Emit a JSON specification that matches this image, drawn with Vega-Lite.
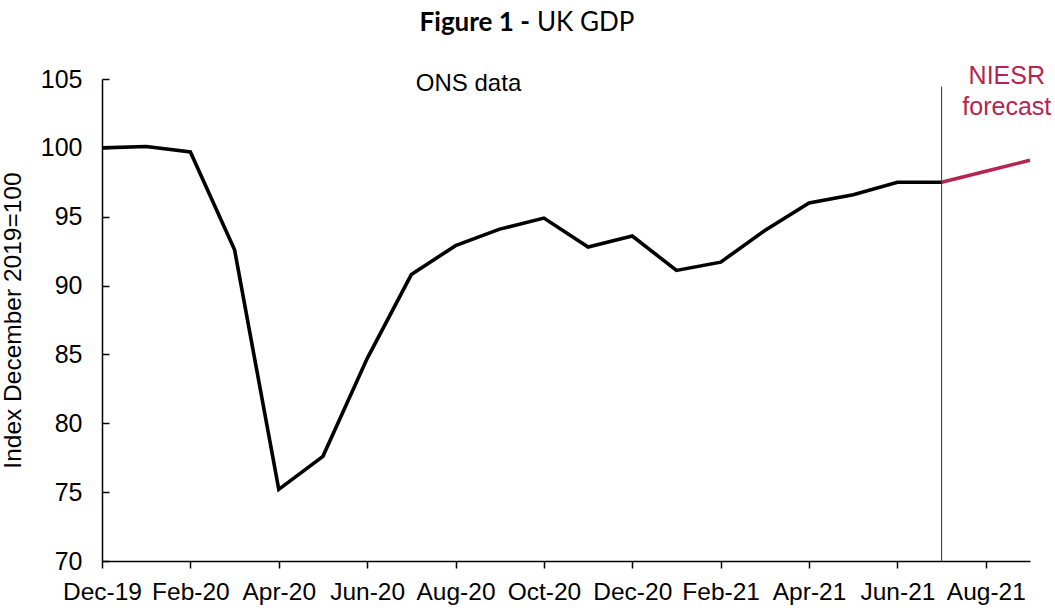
{
  "$schema": "https://vega.github.io/schema/vega-lite/v6.json",
  "autosize": {"type": "none"},
  "padding": {"left": 102, "top": 79, "right": 25, "bottom": 49},
  "width": 928,
  "height": 482,
  "background": "white",
  "config": {"view": {"stroke": null}, "font": "Liberation Sans"},
  "datasets": {
    "gdp": [
      {"month": "Dec-19", "value": 100.0, "series": "ONS"},
      {"month": "Jan-20", "value": 100.1, "series": "ONS"},
      {"month": "Feb-20", "value": 99.7, "series": "ONS"},
      {"month": "Mar-20", "value": 92.6, "series": "ONS"},
      {"month": "Apr-20", "value": 75.2, "series": "ONS"},
      {"month": "May-20", "value": 77.6, "series": "ONS"},
      {"month": "Jun-20", "value": 84.7, "series": "ONS"},
      {"month": "Jul-20", "value": 90.8, "series": "ONS"},
      {"month": "Aug-20", "value": 92.9, "series": "ONS"},
      {"month": "Sep-20", "value": 94.1, "series": "ONS"},
      {"month": "Oct-20", "value": 94.9, "series": "ONS"},
      {"month": "Nov-20", "value": 92.8, "series": "ONS"},
      {"month": "Dec-20", "value": 93.6, "series": "ONS"},
      {"month": "Jan-21", "value": 91.1, "series": "ONS"},
      {"month": "Feb-21", "value": 91.7, "series": "ONS"},
      {"month": "Mar-21", "value": 94.0, "series": "ONS"},
      {"month": "Apr-21", "value": 96.0, "series": "ONS"},
      {"month": "May-21", "value": 96.6, "series": "ONS"},
      {"month": "Jun-21", "value": 97.5, "series": "ONS"},
      {"month": "Jul-21", "value": 97.5, "series": "ONS"},
      {"month": "Jul-21", "value": 97.5, "series": "NIESR"},
      {"month": "Aug-21", "value": 98.3, "series": "NIESR"},
      {"month": "Sep-21", "value": 99.1, "series": "NIESR"}
    ],
    "notes": [
      {"label": "ONS data", "month": "Aug-20", "value": 104.65, "kind": "ons"},
      {"label": "NIESR", "month": "Aug-21", "value": 105.2, "kind": "niesr"},
      {"label": "forecast", "month": "Aug-21", "value": 102.95, "kind": "niesr"},
      {"label": "Figure 1 -", "month": "Oct-20", "value": 109.05, "kind": "titlebold"},
      {"label": "UK GDP", "month": "Oct-20", "value": 109.05, "kind": "title"}
    ],
    "divider": [
      {"month": "Jul-21", "top": 104.45, "bottom": 70}
    ]
  },
  "layer": [
    {
      "data": {"name": "divider"},
      "mark": {"type": "rule", "color": "#333", "strokeWidth": 1},
      "encoding": {
        "x": {"field": "month", "type": "ordinal", "scale": {"type": "point", "padding": 0, "domain": ["Dec-19","Jan-20","Feb-20","Mar-20","Apr-20","May-20","Jun-20","Jul-20","Aug-20","Sep-20","Oct-20","Nov-20","Dec-20","Jan-21","Feb-21","Mar-21","Apr-21","May-21","Jun-21","Jul-21","Aug-21","Sep-21"]},
          "axis": {
            "title": null,
            "values": ["Dec-19","Feb-20","Apr-20","Jun-20","Aug-20","Oct-20","Dec-20","Feb-21","Apr-21","Jun-21","Aug-21"],
            "labelAngle": 0, "labelFontSize": 24.5, "labelColor": "#000", "labelPadding": 12,
            "tickSize": 7, "tickColor": "#000", "domainColor": "#000", "domainWidth": 1.5, "tickWidth": 1.5,
            "grid": false
          }},
        "y": {"field": "top", "type": "quantitative", "scale": {"domain": [70, 105], "zero": false, "nice": false},
          "axis": {
            "title": "Index December 2019=100", "titleFontSize": 24.5, "titleFontWeight": "normal", "titleColor": "#000", "titlePadding": 15,
            "values": [70,75,80,85,90,95,100,105],
            "labelFontSize": 25, "labelColor": "#000", "labelPadding": 27,
            "tickSize": -7, "tickColor": "#000", "domainColor": "#000", "domainWidth": 1.5, "tickWidth": 1.5,
            "grid": false
          }},
        "y2": {"field": "bottom"}
      }
    },
    {
      "data": {"name": "gdp"},
      "mark": {"type": "line", "strokeWidth": 3.6, "strokeJoin": "miter"},
      "encoding": {
        "x": {"field": "month", "type": "ordinal"},
        "y": {"field": "value", "type": "quantitative"},
        "color": {"field": "series", "type": "nominal", "scale": {"domain": ["ONS", "NIESR"], "range": ["#000000", "#B5254F"]}, "legend": null},
        "detail": {"field": "series"}
      }
    },
    {
      "data": {"name": "notes"},
      "transform": [{"filter": "datum.kind === 'ons'"}],
      "mark": {"type": "text", "fontSize": 24, "color": "#000", "align": "center", "baseline": "middle", "dx": 13},
      "encoding": {"x": {"field": "month", "type": "ordinal"}, "y": {"field": "value", "type": "quantitative"}, "text": {"field": "label"}}
    },
    {
      "data": {"name": "notes"},
      "transform": [{"filter": "datum.kind === 'niesr'"}],
      "mark": {"type": "text", "fontSize": 25, "color": "#B5254F", "align": "center", "baseline": "middle", "dx": 21},
      "encoding": {"x": {"field": "month", "type": "ordinal"}, "y": {"field": "value", "type": "quantitative"}, "text": {"field": "label"}}
    },
    {
      "data": {"name": "notes"},
      "transform": [{"filter": "datum.kind === 'titlebold'"}],
      "mark": {"type": "text", "font": "Lato", "fontWeight": "bold", "fontSize": 26, "color": "#000", "align": "right", "baseline": "middle", "dx": -14},
      "encoding": {"x": {"field": "month", "type": "ordinal"}, "y": {"field": "value", "type": "quantitative"}, "text": {"field": "label"}}
    },
    {
      "data": {"name": "notes"},
      "transform": [{"filter": "datum.kind === 'title'"}],
      "mark": {"type": "text", "font": "Lato", "fontSize": 26, "color": "#000", "align": "left", "baseline": "middle", "dx": -7},
      "encoding": {"x": {"field": "month", "type": "ordinal"}, "y": {"field": "value", "type": "quantitative"}, "text": {"field": "label"}}
    }
  ]
}
